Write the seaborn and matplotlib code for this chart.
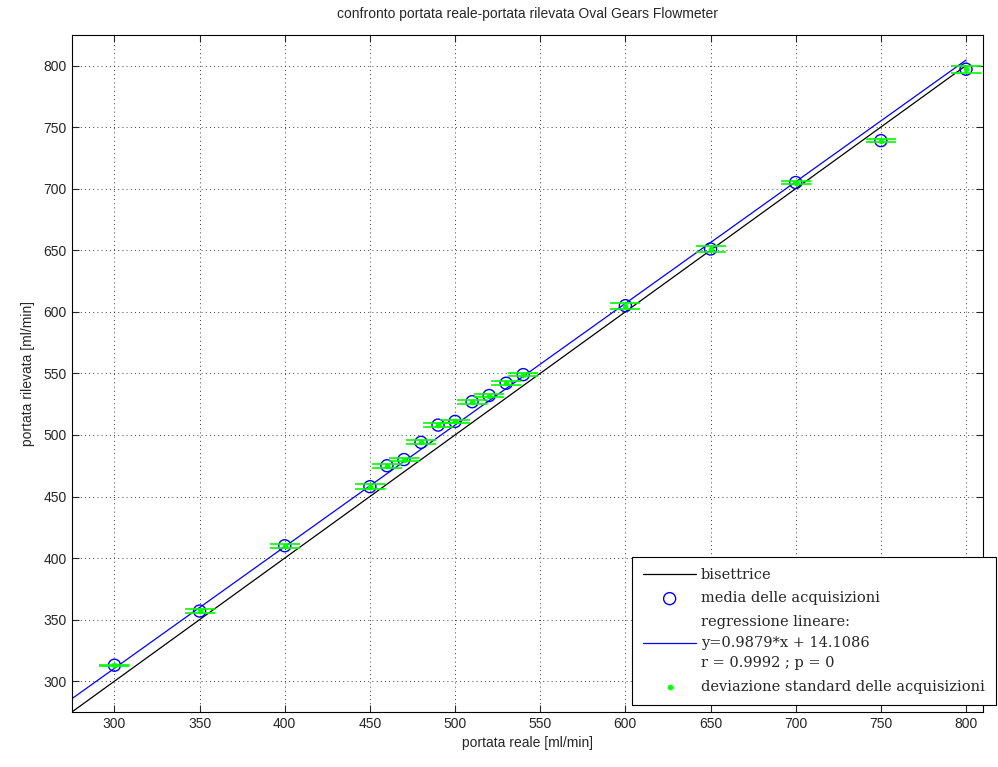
import matplotlib
matplotlib.use("Agg")
import matplotlib.pyplot as plt
import seaborn as sns
import numpy as np
import pandas as pd

# flow values
portata_reale = [300, 350, 400, 450, 460, 470, 480, 490, 500, 510, 520, 530, 540,
                 600, 650, 700, 750, 800]
portata_rilevata = [313, 357, 410, 458, 475, 480, 494, 508, 511, 527, 532, 542, 549,
                    605, 651, 705, 739, 797]
dev_std = [0.3, 2.0, 1.5, 2.0, 1.5, 1.0, 1.5, 1.5, 1.5, 1.5, 1.5, 1.5, 1.5,
           2.5, 2.5, 1.5, 1.5, 3.0]

# regression coefficients from the legend
m = 0.9879
q = 14.1086
x_line = [275, 800]

df = pd.DataFrame({'reale': portata_reale, 'rilevata': portata_rilevata, 'std': dev_std})
lines = pd.DataFrame({'x': x_line,
                      'bis': x_line,
                      'reg': [m * v + q for v in x_line]})

sns.set_style("ticks")
plt.rcParams['font.family'] = ['Liberation Sans', 'DejaVu Sans']

fig = plt.figure(figsize=(9.98, 7.67), dpi=100)
ax = fig.add_axes([0.072, 0.0717, 0.913, 0.883])

sns.lineplot(data=lines, x='x', y='bis', color='black', lw=0.9, ax=ax, label='bisettrice')
sns.lineplot(data=lines, x='x', y='reg', color='blue', lw=0.9, ax=ax,
             label='regressione lineare:\ny=0.9879*x + 14.1086\nr = 0.9992 ; p = 0')
sns.scatterplot(data=df, x='reale', y='rilevata', marker='o', s=75, facecolor='none',
                edgecolor='blue', linewidth=1.0, ax=ax, label='media delle acquisizioni', zorder=3)
ax.errorbar(df['reale'], df['rilevata'], yerr=df['std'], fmt='none', ecolor='#00ff00',
            elinewidth=1.2, capsize=10.5, capthick=1.2, zorder=4)
sns.scatterplot(data=df, x='reale', y='rilevata', marker='o', s=14, color='#00ff00',
                edgecolor='#00ff00', ax=ax, label='deviazione standard delle acquisizioni', zorder=5)

ax.set_xlim(275, 810)
ax.set_ylim(275, 825)
ax.set_xticks(np.arange(300, 801, 50))
ax.set_yticks(np.arange(300, 801, 50))
ax.grid(True, color='black', linestyle=(0, (1, 4)), lw=0.6)
ax.tick_params(direction='in', top=True, right=True, labelsize=10, length=5, width=0.8)
for s in ax.spines.values():
    s.set_color('black')
    s.set_linewidth(0.8)

ax.set_title("confronto portata reale-portata rilevata Oval Gears Flowmeter", fontsize=10, pad=12)
ax.set_xlabel("portata reale [ml/min]", fontsize=10, labelpad=4)
ax.set_ylabel("portata rilevata [ml/min]", fontsize=10, labelpad=6)

h, l = ax.get_legend_handles_labels()
order = [0, 2, 1, 3]
leg = ax.legend([h[i] for i in order], [l[i] for i in order], loc='lower right',
                bbox_to_anchor=(1.014, 0.011), prop={'family': 'DejaVu Serif', 'size': 10.5},
                fancybox=False, edgecolor='black', framealpha=1, borderpad=0.75,
                labelspacing=0.65, handlelength=3.6, handletextpad=0.35, borderaxespad=0)
for t in leg.get_texts():
    t.set_linespacing(1.6)
leg.get_frame().set_linewidth(0.8)

plt.savefig("out.png", dpi=100)
